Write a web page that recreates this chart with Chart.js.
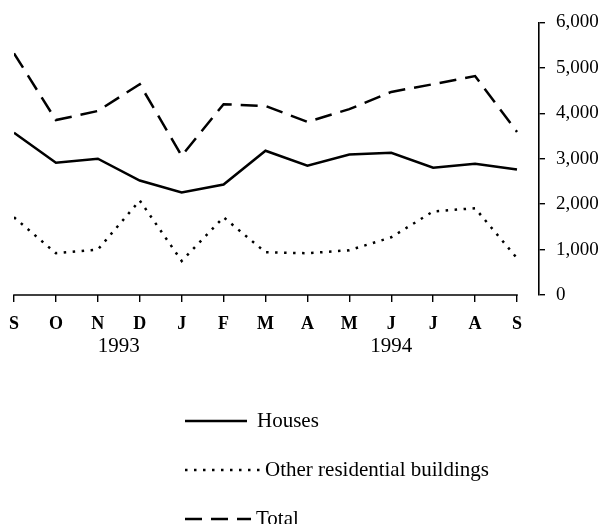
<!DOCTYPE html>
<html>
<head>
<meta charset="utf-8">
<script src="https://cdn.jsdelivr.net/npm/chart.js@4/dist/chart.umd.min.js"></script>
<style>
  html, body { margin: 0; padding: 0; background: #fff; }
  #wrap { width: 607px; height: 524px; position: relative; }
</style>
</head>
<body>
<div id="wrap"><canvas id="c" width="607" height="524"></canvas></div>
<script>
// ---- data ----
const months = ['S','O','N','D','J','F','M','A','M','J','J','A','S'];
const years = ['1993', '1994'];
const yearAt = [2.5, 9];            // category index under which each year is centred
const seriesNames = ['Houses', 'Other residential buildings', 'Total'];
const houses = [3570, 2910, 3000, 2520, 2255, 2430, 3175, 2845, 3090, 3130, 2800, 2890, 2760];
const other  = [1710, 920, 1000, 2080, 750, 1710, 940, 920, 985, 1270, 1840, 1910, 810];
const total  = [5320, 3850, 4050, 4640, 3065, 4200, 4160, 3810, 4090, 4470, 4640, 4820, 3590];
const yTickLabels = ['0', '1,000', '2,000', '3,000', '4,000', '5,000', '6,000'];

const FONT = 'Liberation Serif';
const INK = '#000';

const toPts = arr => arr.map((v, i) => ({x: i, y: v}));

// x-axis baseline from first to last month only
const axisLinePlugin = {
  id: 'axisLine',
  afterDatasetsDraw(chart) {
    const {ctx, scales: {x}, chartArea} = chart;
    ctx.save();
    ctx.strokeStyle = INK;
    ctx.lineWidth = 1.6;
    ctx.beginPath();
    ctx.moveTo(x.getPixelForValue(0) - 0.8, chartArea.bottom);
    ctx.lineTo(x.getPixelForValue(months.length - 1) + 0.8, chartArea.bottom);
    ctx.stroke();
    ctx.restore();
  }
};

// vertical legend under the chart
const stackLegendPlugin = {
  id: 'stackLegend',
  afterDraw(chart) {
    const {ctx} = chart;
    const x0 = 185;
    const lens = [62, 75, 66];
    const tx = [257, 265, 256];
    const rows = [421, 470, 519];
    ctx.save();
    chart.data.datasets.forEach((ds, i) => {
      const y = rows[i];
      ctx.strokeStyle = ds.borderColor;
      ctx.lineWidth = ds.borderWidth;
      ctx.setLineDash(ds.borderDash || []);
      ctx.beginPath();
      ctx.moveTo(x0, y);
      ctx.lineTo(x0 + lens[i], y);
      ctx.stroke();
      ctx.setLineDash([]);
      ctx.fillStyle = INK;
      ctx.font = `21px "${FONT}"`;
      ctx.textBaseline = 'middle';
      ctx.textAlign = 'left';
      ctx.fillText(ds.label, tx[i], y);
    });
    ctx.restore();
  }
};

new Chart(document.getElementById('c'), {
  type: 'line',
  data: {
    datasets: [
      { label: seriesNames[0], data: toPts(houses), borderColor: INK, borderWidth: 2.5, borderDash: [], pointRadius: 0, tension: 0, fill: false },
      { label: seriesNames[1], data: toPts(other),  borderColor: INK, borderWidth: 2.5, borderDash: [2.5, 6.5], pointRadius: 0, tension: 0, fill: false },
      { label: seriesNames[2], data: toPts(total),  borderColor: INK, borderWidth: 2.5, borderDash: [17, 9], pointRadius: 0, tension: 0, fill: false }
    ]
  },
  options: {
    responsive: false,
    animation: false,
    devicePixelRatio: 1,
    layout: { padding: { left: 14, top: 21, right: 0, bottom: 0 } },
    plugins: { legend: { display: false }, tooltip: { enabled: false } },
    scales: {
      x: {
        type: 'linear',
        position: 'bottom',
        min: 0,
        max: 12.525,
        border: { display: false },
        grid: { drawOnChartArea: false, drawTicks: true, tickLength: 7, color: INK, lineWidth: 1.4 },
        ticks: {
          stepSize: 1,
          includeBounds: false,
          autoSkip: false,
          maxRotation: 0,
          padding: 12,
          color: INK,
          font: { family: FONT, size: 18, weight: 'bold' },
          callback: v => months[v] ?? ''
        },
        afterFit: s => { s.height = 39; s.paddingLeft = 0; s.paddingRight = 0; }
      },
      x2: {
        type: 'linear',
        position: 'bottom',
        min: 0,
        max: 12.525,
        border: { display: false },
        grid: { display: false, drawTicks: false },
        afterBuildTicks: s => { s.ticks = yearAt.map(v => ({value: v})); },
        ticks: {
          autoSkip: false,
          maxRotation: 0,
          padding: 0,
          color: INK,
          font: { family: FONT, size: 21 },
          callback: (v, i) => years[i]
        },
        afterFit: s => { s.height = 190; s.paddingLeft = 0; s.paddingRight = 0; }
      },
      y: {
        position: 'right',
        min: 0,
        max: 6000,
        border: { display: true, color: INK, width: 1.6 },
        grid: { drawOnChartArea: false, drawTicks: true, tickLength: 6, color: INK, lineWidth: 1.4 },
        ticks: {
          stepSize: 500,
          padding: 11,
          color: INK,
          font: { family: FONT, size: 19 },
          callback: v => (v % 1000 === 0 ? yTickLabels[v / 1000] : '')
        },
        afterFit: s => { s.width = 68; }
      }
    }
  },
  plugins: [axisLinePlugin, stackLegendPlugin]
});
</script>
</body>
</html>
